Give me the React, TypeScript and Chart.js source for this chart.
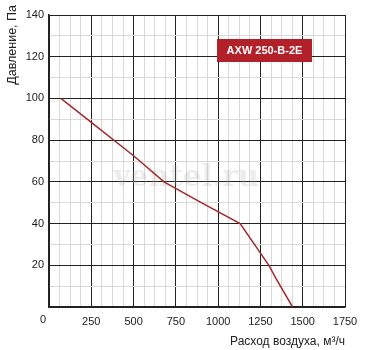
import React, { useEffect, useRef } from "react";
import { Chart, registerables } from "chart.js";

Chart.register(...registerables);

const airflow = [70, 250, 500, 680, 900, 1130, 1300, 1340, 1440];
const pressure = [100, 88.5, 72.5, 60, 50, 40, 20, 14, 0];
const xTickValues = [0, 250, 500, 750, 1000, 1250, 1500, 1750];
const yTickValues = [20, 40, 60, 80, 100, 120, 140];
const xTitle = "Расход воздуха, м³/ч";
const yTitle = "Давление, Па";
const modelLabel = "AXW 250-B-2E";
const watermark = "ventel.ru";

const FONT = "'Liberation Sans', Arial, Helvetica, sans-serif";

function buildTicks(max: number, step: number) {
  const arr: { value: number }[] = [];
  for (let v = 0; v <= max + 1e-9; v += step) arr.push({ value: v });
  return arr;
}

export default function App() {
  const ref = useRef<HTMLCanvasElement | null>(null);

  useEffect(() => {
    if (!ref.current) return;
    const overlay = {
      id: "overlay",
      beforeDatasetsDraw(chart: any) {
        const ctx = chart.ctx;
        ctx.save();
        ctx.font = `bold 29px 'DejaVu Serif', 'Liberation Serif', serif`;
        ctx.fillStyle = "rgba(170,170,170,0.22)";
        ctx.textAlign = "center";
        ctx.textBaseline = "middle";
        ctx.fillText(watermark, 186, 178);
        ctx.restore();
      },
      afterDraw(chart: any) {
        const ctx = chart.ctx;
        const area = chart.chartArea;
        ctx.save();
        // origin label
        ctx.font = `11px ${FONT}`;
        ctx.fillStyle = "#222";
        ctx.textAlign = "center";
        ctx.textBaseline = "middle";
        ctx.fillText(String(xTickValues[0]), area.left - 6, area.bottom + 13);
        // y title
        ctx.save();
        ctx.translate(13, 5);
        ctx.rotate(-Math.PI / 2);
        ctx.textAlign = "right";
        ctx.textBaseline = "middle";
        ctx.font = `12.5px ${FONT}`;
        ctx.fillStyle = "#222";
        ctx.fillText(yTitle, 0, 0);
        ctx.restore();
        // model label
        const bx = area.left + 168;
        const by = area.top + 24;
        const bw = 95;
        const bh = 23;
        ctx.fillStyle = "#b2202a";
        ctx.fillRect(bx, by, bw, bh);
        ctx.fillStyle = "#ffffff";
        ctx.font = `bold 11px ${FONT}`;
        ctx.textAlign = "center";
        ctx.textBaseline = "middle";
        ctx.fillText(modelLabel, bx + bw / 2, by + bh / 2 + 0.5);
        ctx.restore();
      },
    };

    const chart = new Chart(ref.current, {
      type: "scatter",
      data: {
        datasets: [
          {
            data: airflow.map((x, i) => ({ x, y: pressure[i] })),
            showLine: true,
            borderColor: "#a12a2b",
            borderWidth: 1.5,
            pointRadius: 0,
            tension: 0,
            fill: false,
          },
        ],
      },
      options: {
        animation: false,
        responsive: false,
        maintainAspectRatio: false,
        layout: { padding: { top: 15, right: 22, left: 0, bottom: 0 } },
        plugins: {
          legend: { display: false },
          tooltip: { enabled: false },
        },
        scales: {
          x: {
            type: "linear",
            min: 0,
            max: 1750,
            afterBuildTicks: (s: any) => {
              s.ticks = buildTicks(1750, 62.5);
            },
            afterFit: (s: any) => {
              s.height = 43;
            },
            ticks: {
              autoSkip: false,
              maxRotation: 0,
              padding: 8,
              color: "#222",
              font: { family: FONT, size: 11 },
              callback: (v: any) => {
                const n = Number(v);
                return xTickValues.includes(n) && n !== 0 ? String(n) : "";
              },
            },
            grid: {
              drawTicks: false,
              lineWidth: 1,
              color: (c: any) =>
                c.tick && xTickValues.includes(c.tick.value) ? "#222" : "#d9d9d9",
            },
            border: { display: true, color: "#222", width: 1.5 },
            title: {
              display: true,
              text: xTitle,
              align: "end",
              color: "#222",
              font: { family: FONT, size: 12, lineHeight: 1.2 },
              padding: { top: 0, bottom: 1 },
            },
          },
          y: {
            type: "linear",
            min: 0,
            max: 140,
            afterBuildTicks: (s: any) => {
              s.ticks = buildTicks(140, 10);
            },
            afterFit: (s: any) => {
              s.width = 49;
            },
            ticks: {
              autoSkip: false,
              padding: 5,
              color: "#222",
              font: { family: FONT, size: 11 },
              callback: (v: any) => {
                const n = Number(v);
                return yTickValues.includes(n) ? String(n) : "";
              },
            },
            grid: {
              drawTicks: false,
              lineWidth: 1,
              color: (c: any) =>
                c.tick && (yTickValues.includes(c.tick.value) || c.tick.value === 0)
                  ? "#222"
                  : "#d9d9d9",
            },
            border: { display: true, color: "#222", width: 1.5 },
          },
        },
      },
      plugins: [overlay],
    } as any);
    return () => chart.destroy();
  }, []);

  return (
    <div style={{ position: "fixed", left: 0, top: 0, width: 367, height: 350, background: "#fff" }}>
      <canvas ref={ref} width={367} height={350} style={{ width: 367, height: 350, display: "block" }} />
    </div>
  );
}
